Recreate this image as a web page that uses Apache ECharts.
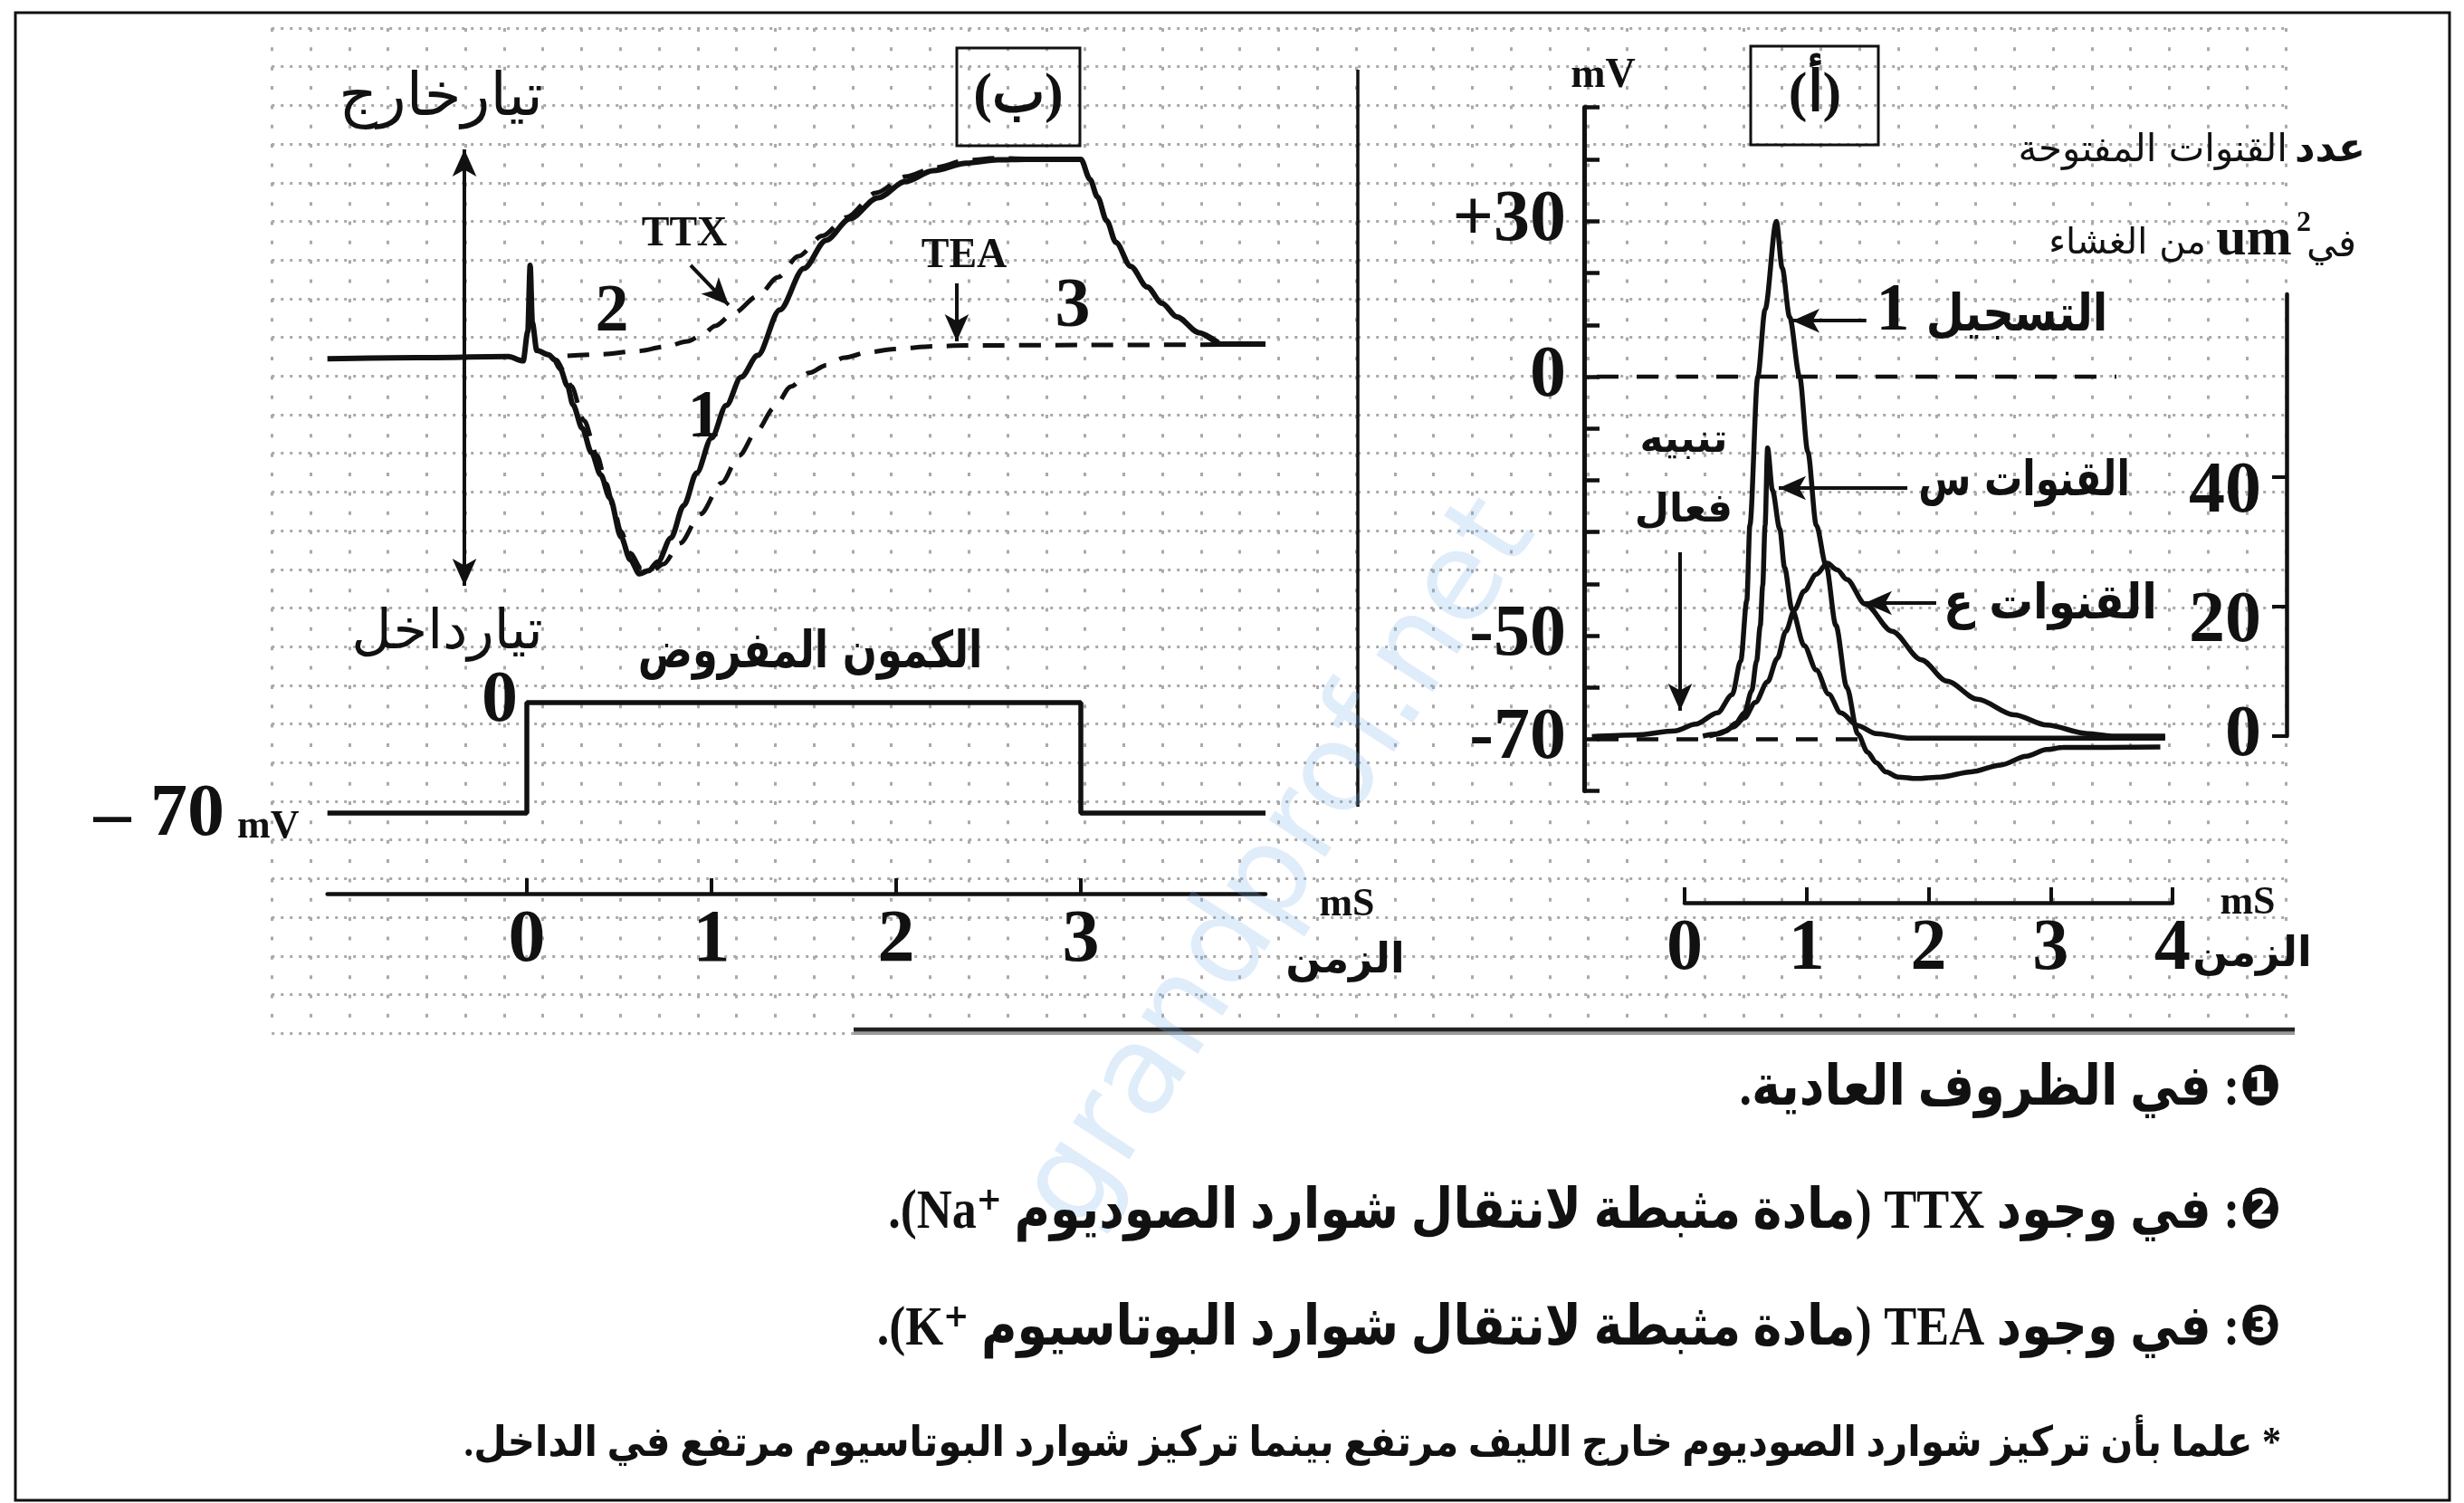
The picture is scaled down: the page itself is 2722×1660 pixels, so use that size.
<!DOCTYPE html>
<html><head><meta charset="utf-8">
<script src="https://cdn.jsdelivr.net/npm/echarts@6/dist/echarts.min.js"></script>
<style>html,body{margin:0;padding:0;background:#fff}#c{width:2722px;height:1660px}</style>
</head><body><div id="c"></div>
<script>
// ---------- DATA ----------
// Panel (ب): membrane current (arbitrary units; + = outward, - = inward) vs time (ms)
const currentNormal = [[-1.08,-0.5],[-0.6,0],[-0.1,0.5],[-0.02,-1.5],[0.005,12],[0.018,42.5],[0.03,16],[0.054,3.3],[0.12,1.3],[0.15,-1],[0.18,-5],[0.22,-13],[0.25,-21.7],[0.3,-32.5],[0.35,-43.7],[0.4,-54],[0.45,-64.6],[0.51,-82.5],[0.56,-93],[0.61,-99.5],[0.66,-98],[0.71,-94],[0.78,-83],[0.85,-68],[0.92,-53],[1.0,-37],[1.08,-22],[1.16,-9],[1.25,1],[1.37,22],[1.5,41],[1.62,54],[1.75,64],[1.9,73.5],[2.05,81],[2.2,86],[2.38,89.5],[2.55,91],[2.7,91.3],[3.0,91.3],[3.05,82],[3.09,74],[3.14,63],[3.19,53],[3.27,42],[3.36,32.5],[3.44,25],[3.52,18.8],[3.64,11.5],[3.76,6.3],[4.0,6.2]];
const currentTTX = [[0.22,0.8],[0.4,1.5],[0.6,3],[0.75,5],[0.87,7.5],[0.95,10.5],[1.02,14.6],[1.12,20.5],[1.25,28.3],[1.36,37],[1.47,46.7],[1.6,56],[1.73,64.6],[1.89,75.8],[2.05,83.3],[2.21,87.5],[2.38,90.8],[2.54,91.8],[2.7,91.5],[3.0,91.3],[3.05,82],[3.09,74],[3.14,63],[3.19,53],[3.27,42],[3.36,32.5],[3.44,25],[3.52,18.8],[3.64,11.5],[3.76,6.3]];
const currentTEA = [[0.12,1.3],[0.16,-1],[0.2,-6],[0.24,-13],[0.31,-29],[0.38,-45],[0.43,-58],[0.47,-69],[0.51,-80],[0.56,-90],[0.62,-97],[0.68,-98],[0.74,-95],[0.83,-85.4],[0.94,-72],[1.055,-57.6],[1.15,-45],[1.243,-34],[1.34,-23],[1.43,-13.3],[1.53,-7],[1.62,-3.5],[1.72,0],[1.85,2.5],[1.99,4],[2.2,5.2],[2.37,5.6],[3.0,5.8],[3.76,6]];
const imposedPotential = [[-1.08,-70],[0,-70],[0,0],[3,0],[3,-70],[4,-70]];
const timeTicksB = [0,1,2,3];
// Panel (أ): action potential (mV) and open channels per um2 vs time (ms)
const actionPotential = [[-0.76,-69.5],[-0.4,-69.2],[-0.08,-68.4],[0.09,-67.1],[0.27,-64.9],[0.39,-61.4],[0.46,-54.9],[0.51,-43.2],[0.535,-28.7],[0.6,0],[0.66,13],[0.752,30],[0.8,21],[0.861,11.5],[0.943,0],[1.01,-14.5],[1.08,-28.7],[1.16,-36.5],[1.24,-48],[1.33,-60],[1.42,-69],[1.5,-72.5],[1.57,-74.5],[1.65,-76.3],[1.75,-77.3],[1.9,-77.6],[2.1,-77.3],[2.35,-76.3],[2.59,-75],[2.8,-73.3],[2.97,-72],[3.1,-71.6],[3.9,-71.5]];
const naChannels = [[0.15,0],[0.25,0.3],[0.34,0.8],[0.42,2],[0.49,3.6],[0.55,7],[0.59,11.6],[0.62,17],[0.64,23.2],[0.66,32.6],[0.68,44.5],[0.72,38],[0.78,32],[0.82,26],[0.88,19.6],[0.98,14.0],[1.08,10.2],[1.18,6.5],[1.28,3.6],[1.42,1.6],[1.57,0.4],[1.83,-0.3],[3.94,-0.3]];
const kChannels = [[0.2,0],[0.29,0.4],[0.4,1.4],[0.49,2.8],[0.58,5.2],[0.68,8.4],[0.76,12],[0.83,16.2],[0.9,19.5],[0.98,22.4],[1.08,25],[1.17,26.7],[1.25,25.7],[1.33,24.2],[1.48,20.4],[1.7,16.2],[1.94,11.8],[2.15,8.5],[2.4,5.7],[2.7,3.3],[2.97,1.7],[3.3,0.4],[3.5,0],[3.94,0]];
const zeroLineA = [[-0.72,0],[3.54,0]];
const restLineA = [[-0.72,-70],[1.5,-70]];
const timeTicksA = [0,1,2,3,4];
const mvTicks = [-80,-70,-60,-50,-40,-30,-20,-10,0,10,20,30,42,52];
const mvLabels = [30,0,-50,-70];
const channelTicks = [0,20,40];
// arrows (data coordinates)
const currentArrow = [[-0.338,95.8],[-0.338,-105]];
const ttxArrow = [[0.887,42.5],[1.093,24.2]];
const teaArrow = [[2.328,34.2],[2.328,7.5]];
const stimArrow = [[-0.037,-33.9],[-0.037,-64.5]];
const recArrow = [[1.49,10.8],[0.883,10.8]];
const naArrow = [[1.826,-21.5],[0.772,-21.5]];
const kArrow = [[2.063,-43.7],[1.477,-43.7]];

// ---------- LAYOUT ----------
const L = {t0x:582, pxMs:204, baseY:395, pxU:2.4, stepZeroY:776, pxMv:1.743, top:130, axisY:987, tMin:-1.08, tMax:4.0};
const R = {t0x:1861, pxMs:134.75, zeroY:416, pxMv:5.72, chZeroY:813, pxCh:7.15, left:1750, right:2526, mvMin:-80, mvMax:52, chAxisTop:325};
const xL = t => L.t0x + L.pxMs*t;
const xR = t => R.t0x + R.pxMs*t;
const yR = v => R.zeroY - R.pxMv*v;
const rTop = yR(R.mvMax), rBot = yR(R.mvMin);
const chMax = (R.chZeroY - R.chAxisTop)/R.pxCh;

const TF = "'Liberation Serif','Times New Roman',serif";
const AF = "'DejaVu Sans',sans-serif";
const CF = "'Liberation Serif','DejaVu Sans',sans-serif";
const INK = '#111';

function axisFont(size){return {fontFamily:TF,fontWeight:'bold',fontSize:size,color:INK};}
function arrowML(pairs, sym){
  return {silent:true, symbol:sym, symbolSize:[20,30], animation:false,
    label:{show:false}, emphasis:{disabled:true},
    lineStyle:{type:'solid', color:INK, width:4},
    data: pairs.map(p=>[{coord:p[0]},{coord:p[1]}])};
}
const gridDot = '#a9a9a9';

const option = {
  animation:false,
  backgroundColor:'#fff',
  grid:[
    {left:xL(L.tMin), top:L.top, width:xL(L.tMax)-xL(L.tMin), height:L.axisY-L.top},
    {left:R.left, top:rTop, width:R.right-R.left, height:rBot-rTop},
    {left:xR(0), top:987, width:xR(4)-xR(0), height:10},
    {left:R.right, top:R.chAxisTop, width:1, height:R.chZeroY-R.chAxisTop},
    {left:300.2, top:31, width:52*42.78, height:26*42.7}
  ],
  xAxis:[
    {gridIndex:0, type:'value', min:L.tMin, max:L.tMax,
      axisLine:{show:true, onZero:false, lineStyle:{color:INK, width:4.5}},
      axisTick:{show:true, inside:true, length:17, customValues:timeTicksB, lineStyle:{color:INK,width:4}},
      axisLabel:Object.assign({show:true, customValues:timeTicksB, margin:12}, axisFont(82)),
      splitLine:{show:false}},
    {gridIndex:1, type:'value', min:(R.left-R.t0x)/R.pxMs, max:(R.right-R.t0x)/R.pxMs, show:false},
    {gridIndex:2, type:'value', min:0, max:4,
      axisLine:{show:true, onZero:false, lineStyle:{color:INK, width:4.5}},
      axisTick:{show:true, inside:true, length:17, customValues:timeTicksA, lineStyle:{color:INK,width:4}},
      axisLabel:Object.assign({show:true, customValues:timeTicksA, margin:12}, axisFont(80)),
      splitLine:{show:false}},
    {gridIndex:3, type:'value', min:0, max:1, show:false},
    {gridIndex:4, type:'value', min:0, max:52, interval:1,
      axisLine:{show:false}, axisTick:{show:false}, axisLabel:{show:false},
      splitLine:{show:true, lineStyle:{color:gridDot, width:3, type:[4,17.35]}}}
  ],
  yAxis:[
    {gridIndex:0, type:'value', min:(L.baseY-L.axisY)/L.pxU, max:(L.baseY-L.top)/L.pxU, show:false},
    {gridIndex:0, type:'value', min:-(L.axisY-L.stepZeroY)/L.pxMv, max:(L.stepZeroY-L.top)/L.pxMv, show:false},
    {gridIndex:1, type:'value', position:'left', min:R.mvMin, max:R.mvMax,
      axisLine:{show:true, onZero:false, lineStyle:{color:INK, width:5}},
      axisTick:{show:true, inside:true, length:17, customValues:mvTicks, lineStyle:{color:INK,width:4.5}},
      axisLabel:Object.assign({show:true, customValues:mvLabels, margin:20,
        formatter:v=> v>0 ? '+'+v : String(v)}, axisFont(80)),
      splitLine:{show:false}},
    {gridIndex:1, type:'value', position:'right', min:(R.chZeroY-rBot)/R.pxCh, max:(R.chZeroY-rTop)/R.pxCh, show:false},
    {gridIndex:2, type:'value', min:0, max:1, show:false},
    {gridIndex:3, type:'value', position:'left', min:0, max:chMax,
      axisLine:{show:true, onZero:false, lineStyle:{color:INK, width:4.5}},
      axisTick:{show:true, inside:false, length:16, customValues:channelTicks, lineStyle:{color:INK,width:4}},
      axisLabel:{show:true, customValues:channelTicks, margin:28,
        formatter:v=> v===0 ? '{z|0}' : '{d|'+v+'}',
        rich:{z:axisFont(80), d:Object.assign({padding:[34,0,0,0]}, axisFont(80))}},
      splitLine:{show:false}},
    {gridIndex:4, type:'value', min:0, max:26, interval:1,
      axisLine:{show:false}, axisTick:{show:false}, axisLabel:{show:false},
      splitLine:{show:true, lineStyle:{color:gridDot, width:3, type:[3,7]}}}
  ],
  series:[
    {type:'line', xAxisIndex:0, yAxisIndex:0, data:currentNormal, symbol:'none', smooth:0.3, smoothMonotone:'x',
      lineStyle:{color:INK, width:6}, z:4, markLine:arrowML([currentArrow],['arrow','arrow'])},
    {type:'line', xAxisIndex:0, yAxisIndex:0, data:currentTTX, symbol:'none', smooth:0.3, smoothMonotone:'x',
      lineStyle:{color:INK, width:5, type:[24,16]}, z:3, markLine:arrowML([ttxArrow],['none','arrow'])},
    {type:'line', xAxisIndex:0, yAxisIndex:0, data:currentTEA, symbol:'none', smooth:0.3, smoothMonotone:'x',
      lineStyle:{color:INK, width:5, type:[24,16]}, z:3, markLine:arrowML([teaArrow],['none','arrow'])},
    {type:'line', xAxisIndex:0, yAxisIndex:1, data:imposedPotential, symbol:'none', smooth:false,
      lineStyle:{color:INK, width:5.5}, z:4},
    {type:'line', xAxisIndex:1, yAxisIndex:2, data:actionPotential, symbol:'none', smooth:0.3, smoothMonotone:'x',
      lineStyle:{color:INK, width:5.5}, z:4, markLine:arrowML([stimArrow,recArrow,naArrow,kArrow],['none','arrow'])},
    {type:'line', xAxisIndex:1, yAxisIndex:3, data:naChannels, symbol:'none', smooth:0.3, smoothMonotone:'x',
      lineStyle:{color:INK, width:5.5}, z:4},
    {type:'line', xAxisIndex:1, yAxisIndex:3, data:kChannels, symbol:'none', smooth:0.3, smoothMonotone:'x',
      lineStyle:{color:INK, width:5.5}, z:4},
    {type:'line', xAxisIndex:1, yAxisIndex:2, data:zeroLineA, symbol:'none',
      lineStyle:{color:INK, width:4.5, type:[24,20]}, z:3},
    {type:'line', xAxisIndex:1, yAxisIndex:2, data:restLineA, symbol:'none',
      lineStyle:{color:INK, width:4.5, type:[24,20]}, z:3}
  ],
  graphic:[]
};

// ---------- TEXT & DECORATION ----------
const RLE='\u202B', PDF='\u202C', LRM='\u200E';
function txt(x,y,text,size,o){
  o=o||{};
  return {type:'text', x:x, y:y, z:20, silent:true, rotation:o.rot||0, scaleX:o.sx||1,
    style:{text:text, fontSize:size, fontFamily:o.ff||TF, fontWeight:o.fw||'bold',
      fill:o.fill||INK, align:o.align||'center', verticalAlign:o.va||'middle'}};
}
function rect(x1,y1,x2,y2,lw){return {type:'rect', z:15, silent:true, shape:{x:x1,y:y1,width:x2-x1,height:y2-y1}, style:{fill:'none', stroke:INK, lineWidth:lw}};}
function seg(x1,y1,x2,y2,lw,color){return {type:'line', z:15, silent:true, shape:{x1:x1,y1:y1,x2:x2,y2:y2}, style:{stroke:color||INK, lineWidth:lw}};}

const G = option.graphic;
// frame, separators
G.push(rect(17,14,2706,1657,3));
G.push(seg(1500,77,1500,891,3.5));
G.push(seg(943,1141,2535,1141,4,'#9a9a9a'));
G.push(seg(943,1137,2535,1137,4.5,'#222'));
// watermark
G.push(txt(1416,956,'grandprof.net',136,{ff:AF, fw:'normal', fill:'rgba(120,175,235,0.24)', rot:57*Math.PI/180}));
// panel (ب)
G.push(rect(1057,53,1193,161,3));
G.push(txt(1125,107,'(ب)',62));
G.push(txt(487,110,'تيارخارج',66,{ff:AF, fw:'normal'}));
G.push(txt(494,700,'تيارداخل',61,{ff:AF, fw:'normal'}));
G.push(txt(756,259,'TTX',46));
G.push(txt(1065,283,'TEA',46));
G.push(txt(676,346,'2',74));
G.push(txt(778,463,'1',74));
G.push(txt(1185,340,'3',78));
G.push(txt(895,722,'الكمون المفروض',56,{ff:AF, sx:0.8}));
G.push(txt(552,775,'0',80));
G.push(txt(124,903,'–',82));
G.push(txt(207,901,'70',82));
G.push(txt(262,914,'mV',44,{align:'left'}));
G.push(txt(1488,1000,'mS',44));
G.push(txt(1486,1062,'الزمن',46,{ff:AF}));
// panel (أ)
G.push(rect(1934,51,2075,160,3));
G.push(txt(2005,106,'(أ)',62));
G.push(txt(1771,84,'mV',46));
G.push(txt(1860,488,'تنبيه',44,{ff:AF}));
G.push(txt(1860,565,'فعال',44,{ff:AF}));
G.push(txt(2228,350,'التسجيل',56,{ff:AF, sx:0.86}));
G.push(txt(2091,345,'1',74));
G.push(txt(2236,533,'القنوات س',54,{ff:AF, sx:0.78}));
G.push(txt(2265,669,'القنوات ع',54,{ff:AF, sx:0.9}));
G.push(txt(2613,167,'عدد',44,{ff:AF, align:'right'}));
G.push(txt(2527,167,'القنوات المفتوحة',42,{ff:AF, fw:'normal', align:'right'}));
G.push(txt(2603,272,'في',42,{ff:AF, fw:'normal', align:'right'}));
G.push(txt(2490,265,'um',60));
G.push(txt(2545,247,'2',32));
G.push(txt(2437,270,'من الغشاء',40,{ff:AF, fw:'normal', align:'right'}));
G.push(txt(2483,998,'mS',44));
G.push(txt(2488,1055,'الزمن',46,{ff:AF}));
// captions
G.push(txt(2520,1204,RLE+'❶: في الظروف العادية.'+PDF,62,{ff:CF, fw:'bold', align:'right', sx:0.87}));
G.push(txt(2520,1340,RLE+'❷: في وجود TTX (مادة مثبطة لانتقال شوارد الصوديوم Na⁺'+LRM+').'+PDF,62,{ff:CF, fw:'bold', align:'right', sx:0.87}));
G.push(txt(2520,1469,RLE+'❸: في وجود TEA (مادة مثبطة لانتقال شوارد البوتاسيوم K⁺'+LRM+').'+PDF,62,{ff:CF, fw:'bold', align:'right', sx:0.87}));
G.push(txt(2520,1596,RLE+'* علما بأن تركيز شوارد الصوديوم خارج الليف مرتفع بينما تركيز شوارد البوتاسيوم مرتفع في الداخل.'+PDF,46,{ff:CF, fw:'bold', align:'right', sx:0.915}));

const chart = echarts.init(document.getElementById('c'), null, {renderer:'canvas', width:2722, height:1660});
chart.setOption(option);
</script></body></html>
